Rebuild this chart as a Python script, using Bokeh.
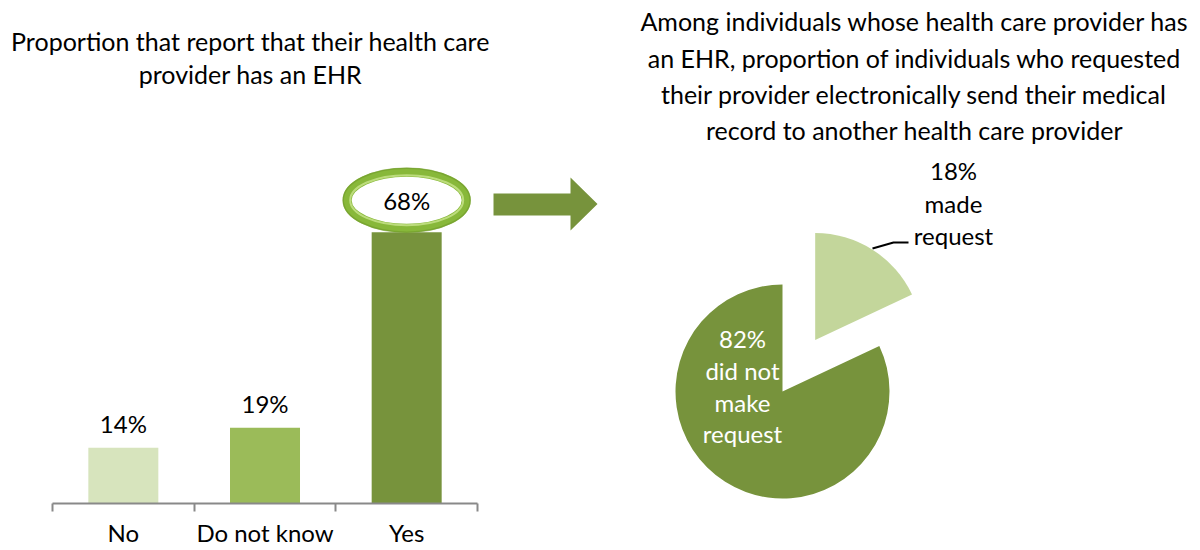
import math
from bokeh.plotting import figure
from bokeh.layouts import row
from bokeh.models import Range1d, FixedTicker, LinearAxis, ColumnDataSource
from bokeh.embed import file_html
from bokeh.resources import INLINE
from bokeh.core.properties import value

# ---------------- data ----------------
categories = ["No", "Do not know", "Yes"]
ehr_values = [14, 19, 68]
bar_labels = ["14%", "19%", "68%"]
bar_colors = ["#d7e4bd", "#9bbb59", "#77933c"]

pie_categories = ["made request", "did not make request"]
pie_values = [18, 82]
pie_colors = ["#c3d69b", "#77933c"]
pie_label_lines = [["18%", "made", "request"], ["82%", "did not", "make", "request"]]
pie_label_colors = ["#000000", "#ffffff"]

left_title = ["Proportion that report that their health care", "provider has an EHR"]
right_title = ["Among individuals whose health care provider has",
               "an EHR, proportion of individuals who requested",
               "their provider electronically send their medical",
               "record to another health care provider"]

FONT = "Lato"
FS = "24px"
TFS = "25px"

# ---------------- left: bar chart ----------------
W1, H = 620, 550
AX0 = 52          # pixel x of the axis start
BB = 47
PX_CAT = 141.67
PX_PCT = 3.99
frame_h = H - BB

def lx(px):
    return (px - AX0) / PX_CAT

def ly(py):
    return (frame_h - py) / PX_PCT

p = figure(width=W1, height=H, output_backend="svg", toolbar_location=None,
           x_range=Range1d(lx(0), lx(W1)), y_range=Range1d(0, frame_h / PX_PCT),
           x_axis_type=None, y_axis_type=None,
           min_border_left=0, min_border_right=0, min_border_top=0, min_border_bottom=BB,
           outline_line_color=None, background_fill_color="white", border_fill_color="white")

xs = [i + 0.5 for i in range(len(categories))]
ax = LinearAxis(ticker=FixedTicker(ticks=xs, minor_ticks=list(range(len(categories) + 1))),
                major_label_overrides={x: c for x, c in zip(xs, categories)},
                bounds=(0, len(categories)),
                axis_line_color="#898989", axis_line_width=2,
                major_tick_line_color=None, major_tick_out=0, major_tick_in=0,
                minor_tick_line_color="#898989", minor_tick_line_width=2,
                minor_tick_out=8, minor_tick_in=0,
                major_label_standoff=6,
                major_label_text_line_height=1.0,
                major_label_text_font=FONT, major_label_text_font_size=FS,
                major_label_text_color="#000000")
p.add_layout(ax, "below")

src = ColumnDataSource(dict(x=xs, top=ehr_values, color=bar_colors, label=bar_labels,
                            ly=[v + (32 if i == len(ehr_values) - 1 else 24) / PX_PCT
                                for i, v in enumerate(ehr_values)]))
p.vbar(x="x", top="top", width=70 / PX_CAT, fill_color="color", line_color=None, source=src)

# highlight ring around the largest value
hx = xs[-1]
hy = ehr_values[-1] + 32 / PX_PCT
p.ellipse(x=hx, y=hy, width=119, height=56, width_units="screen", height_units="screen",
          fill_color="white", line_color="#88b83a", line_width=9)
p.ellipse(x=hx, y=hy, width=113, height=50, width_units="screen", height_units="screen",
          fill_color=None, line_color="#bcdc7c", line_width=2)
p.ellipse(x=hx, y=hy, width=127, height=64, width_units="screen", height_units="screen",
          fill_color=None, line_color="#6f9a2c", line_width=1.5, line_alpha=0.6)

p.text(x="x", y="ly", text="label", source=src, text_align="center", text_baseline="middle",
       text_font=value(FONT), text_font_size=FS, text_color="#000000")

# arrow
arrow_px = [(493, 193), (570, 193), (570, 177), (597, 203.5), (570, 230), (570, 215), (493, 215)]
p.patch([lx(a) for a, b in arrow_px], [ly(b) for a, b in arrow_px],
        fill_color="#77933c", line_color=None)

# left title
for txt, py in zip(left_title, [40, 73]):
    p.text(x=[lx(250)], y=[ly(py)], text=[txt], text_align="center", text_baseline="middle",
           text_font=value(FONT), text_font_size=TFS, text_color="#000000")

# ---------------- right: pie ----------------
W2 = 1200 - W1
p2 = figure(width=W2, height=H, output_backend="svg", toolbar_location=None,
            x_range=Range1d(W1, 1200), y_range=Range1d(BB, H),
            x_axis_type=None, y_axis_type=None,
            min_border_left=0, min_border_right=0, min_border_top=0, min_border_bottom=BB,
            outline_line_color=None, background_fill_color="white", border_fill_color="white")

def ry(py):
    return H - py

CX, CY, R = 782, ry(391), 107
EXPLODE = [61, 0]
total = sum(pie_values)
start = 90.0
wx, wy, sa, ea = [], [], [], []
for v, off in zip(pie_values, EXPLODE):
    span = v / total * 360.0
    end_a = start
    start_a = start - span
    mid = math.radians((start_a + end_a) / 2)
    wx.append(CX + off * math.cos(mid))
    wy.append(CY + off * math.sin(mid))
    sa.append(math.radians(start_a))
    ea.append(math.radians(end_a))
    start = start_a

p2.wedge(x=wx, y=wy, radius=R, start_angle=sa, end_angle=ea, direction="anticlock",
         fill_color=pie_colors, line_color=None)

# leader line for the small slice
p2.line([872, 893, 908], [ry(248), ry(242), ry(242)], line_color="#000000", line_width=2)

label_pos = [(953, [170, 203, 235]), (742, [338, 370, 402, 433])]
for lines, col, (lxp, lys) in zip(pie_label_lines, pie_label_colors, label_pos):
    p2.text(x=[lxp] * len(lines), y=[ry(v) for v in lys], text=lines, text_align="center",
            text_baseline="middle", text_font=value(FONT), text_font_size=FS, text_color=col)

for txt, py in zip(right_title, [20, 57, 93, 129]):
    p2.text(x=[914], y=[ry(py)], text=[txt], text_align="center", text_baseline="middle",
            text_font=value(FONT), text_font_size=TFS, text_color="#000000")

layout = row(p, p2, spacing=0)
open("out.html", "w").write(file_html(layout, INLINE))
